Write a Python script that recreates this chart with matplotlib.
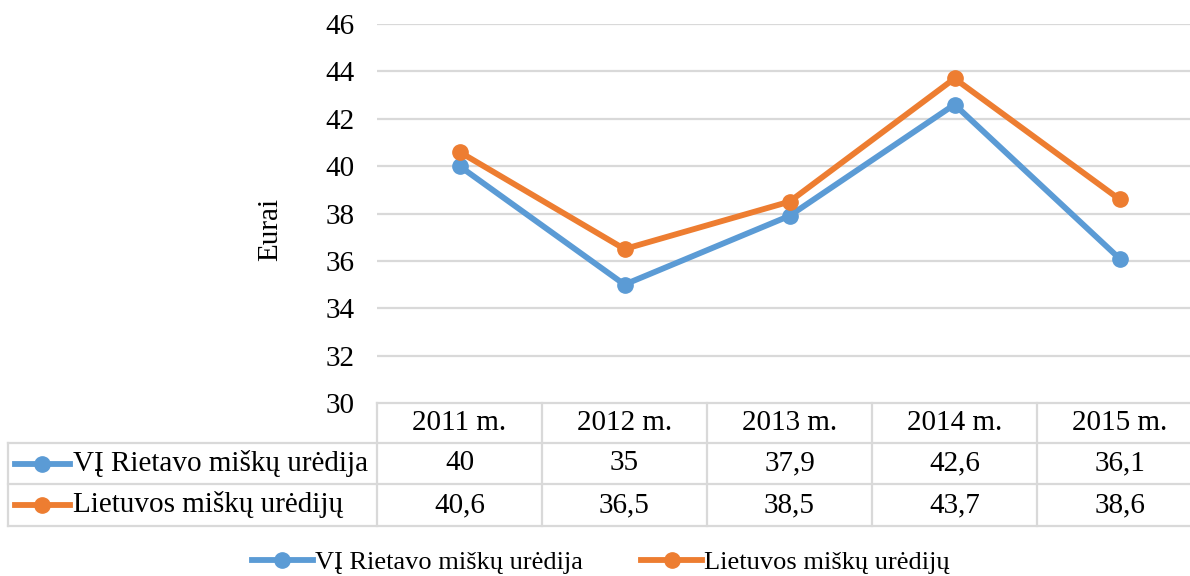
import matplotlib
matplotlib.use("Agg")
import matplotlib.pyplot as plt
from matplotlib.lines import Line2D

plt.rcParams['font.family'] = ['Liberation Serif', 'DejaVu Serif']

# duomenys
years = ["2011 m.", "2012 m.", "2013 m.", "2014 m.", "2015 m."]
series_names = ["VĮ Rietavo miškų urėdija", "Lietuvos miškų urėdijų"]
rietavo = [40, 35, 37.9, 42.6, 36.1]
lietuvos = [40.6, 36.5, 38.5, 43.7, 38.6]
colors = ["#5B9BD5", "#ED7D31"]
y_ticks = [30, 32, 34, 36, 38, 40, 42, 44, 46]

W, H = 1190, 576
FS = 21
GRID = "#d9d9d9"

# išdėstymas pikseliais
left, colw = 377, 165
top, bottom = 24, 403
rows = [403, 443, 484, 526]
right = left + colw * len(years)

fig = plt.figure(figsize=(W / 100, H / 100), dpi=100)

ax = fig.add_axes([left / W, 1 - bottom / H, (right - left) / W, (bottom - top) / H])
ax.set_xlim(-0.5, len(years) - 0.5)
ax.set_ylim(30, 46)
ax.set_yticks(y_ticks)
ax.set_yticklabels([str(t) for t in y_ticks], fontsize=FS)
ax.set_xticks([])
ax.tick_params(axis='y', length=0, pad=16)
for s in ax.spines.values():
    s.set_visible(False)
for t in y_ticks[1:]:
    ax.axhline(t, color=GRID, lw=1.6, zorder=0)
ax.set_ylabel("Eurai", fontsize=FS)
ax.yaxis.set_label_coords(-(left - 283) / (right - left), (bottom - 229) / (bottom - top))

xs = range(len(years))
for vals, c in zip([rietavo, lietuvos], colors):
    ax.plot(xs, vals, color=c, lw=4.2, marker='o', ms=11, zorder=3)

# lentelė
ov = fig.add_axes([0, 0, 1, 1], facecolor='none')
ov.set_xlim(0, W)
ov.set_ylim(H, 0)
ov.axis('off')

for y in rows:
    x0 = left if y == rows[0] else 8
    ov.plot([x0, right], [y, y], color=GRID, lw=1.6)
ov.plot([8, 8], [rows[1], rows[-1]], color=GRID, lw=1.6)
for i in range(len(years) + 1):
    x = left + i * colw
    ov.plot([x, x], [rows[0], rows[-1]], color=GRID, lw=1.6)

hy = (rows[0] + rows[1]) / 2
for i, yr in enumerate(years):
    ov.text(left + (i + 0.5) * colw, hy, yr, fontsize=FS, ha='center', va='center')

for r, (name, vals, c) in enumerate(zip(series_names, [rietavo, lietuvos], colors)):
    cy = (rows[r + 1] + rows[r + 2]) / 2
    ov.plot([15, 70], [cy, cy], color=c, lw=4.2)
    ov.plot([42], [cy], color=c, marker='o', ms=11)
    ov.text(73, cy, name, fontsize=FS, ha='left', va='center')
    for i, v in enumerate(vals):
        ov.text(left + (i + 0.5) * colw, cy, f"{v:g}".replace('.', ','),
                fontsize=FS, ha='center', va='center')

# legenda
handles = [Line2D([0], [0], color=c, lw=4.2, marker='o', ms=11) for c in colors]
fig.legend(handles, series_names, loc='center', bbox_to_anchor=(601 / W, 1 - 562 / H),
           ncol=2, frameon=False, fontsize=19, handlelength=2.3, handletextpad=0.1,
           columnspacing=2.2)

fig.savefig("out.png", dpi=100)
